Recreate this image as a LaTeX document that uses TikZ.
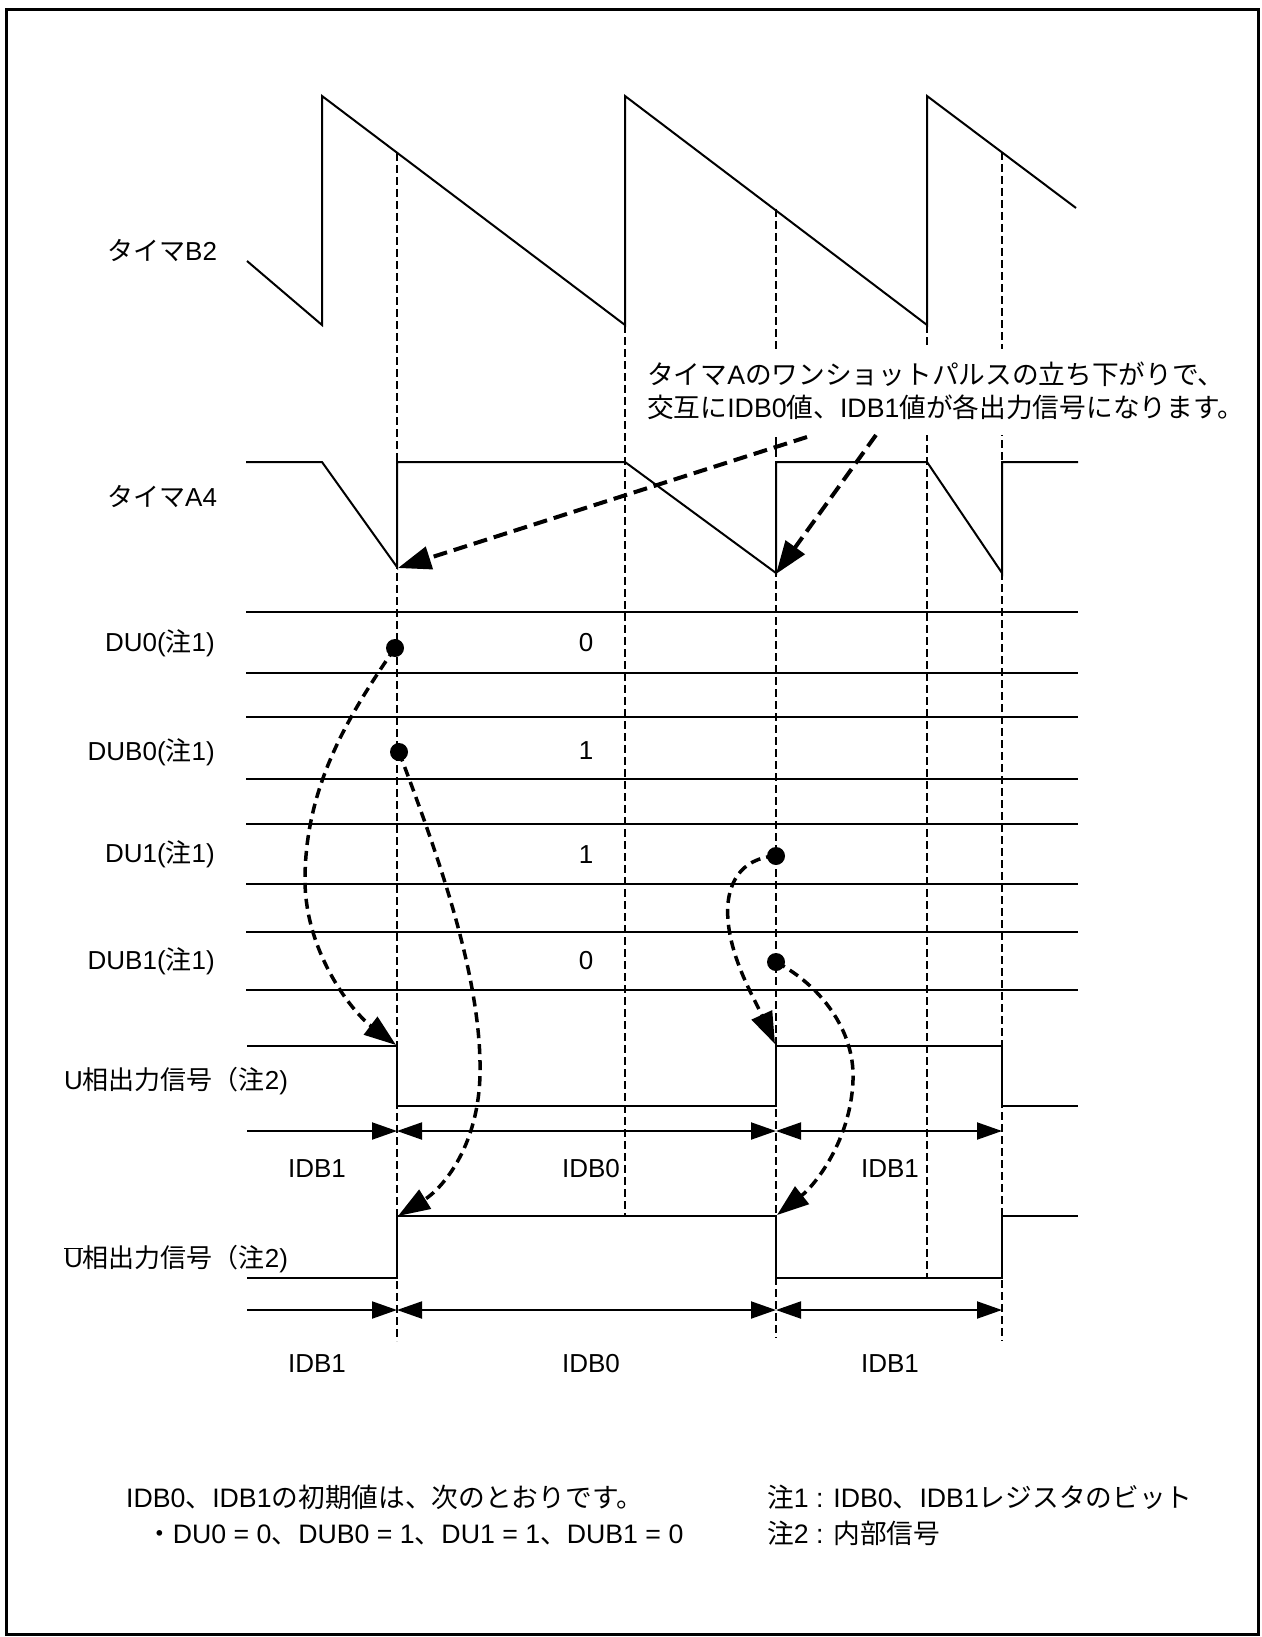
\documentclass[tikz,border=0pt]{standalone}
\usepackage{fontspec}
\setmainfont{Liberation Sans}
\newfontfamily\jp{Noto Sans CJK JP}
\usetikzlibrary{arrows.meta}
\tikzset{
  sig/.style={line width=2pt, line join=miter},
  guide/.style={line width=2pt, dash pattern=on 8pt off 4pt},
  callout/.style={line width=4pt, dash pattern=on 14pt off 7pt, -{Triangle[length=33pt,width=23pt]}},
  bendarrow/.style={line width=3.5pt, dash pattern=on 10pt off 6pt, -{Triangle[length=32pt,width=22pt]}},
  dimr/.style={line width=2pt, -{Triangle[length=25pt,width=17pt]}},
  dimb/.style={line width=2pt, {Triangle[length=25pt,width=17pt]}-{Triangle[length=25pt,width=17pt]}},
  lbl/.style={font=\fontsize{26}{30}\selectfont, inner sep=0pt},
  calltxt/.style={font=\fontsize{26.7}{30}\selectfont, inner sep=0pt},
  notetxt/.style={font=\fontsize{26.7}{30}\selectfont, inner sep=0pt},
  dotmark/.style={circle, fill=black, minimum size=18pt, inner sep=0pt},
}
\begin{document}
\begin{tikzpicture}[x=1pt,y=-1pt]
\useasboundingbox (0,0) rectangle (1261,1637);
\draw[line width=3pt] (6,10) rectangle (1258.5,1634.5);

% guide (dashed) lines
\draw[guide] (397,153) -- (397,1341);
\draw[guide] (625,325) -- (625,1216);
\draw[guide] (776,209) -- (776,1338);
\draw[guide] (927,325) -- (927,1278);
\draw[guide] (1002,152) -- (1002,1341);

% Timer B2 sawtooth
\draw[sig] (247,261) -- (322,325) -- (322,96) -- (625,325) -- (625,96) -- (927,325) -- (927,96) -- (1076,208);

% Timer A4
\draw[sig] (246,462) -- (322,462) -- (397,567) -- (397,462) -- (625,462) -- (776,573) -- (776,462) -- (927,462) -- (1002,573) -- (1002,462) -- (1078,462);

% register rows
\foreach \yy in {612,673,717,779,824,884,932,990}
  \draw[sig] (246,\yy) -- (1078,\yy);

% U phase
\draw[sig] (247,1046) -- (397,1046) -- (397,1106) -- (776,1106) -- (776,1046) -- (1002,1046) -- (1002,1106) -- (1078,1106);
% U-bar phase
\draw[sig] (247,1278) -- (397,1278) -- (397,1216) -- (776,1216) -- (776,1278) -- (1002,1278) -- (1002,1216) -- (1078,1216);

% dimension arrows
\coordinate (ua) at (247,1131); \coordinate (ub) at (397,1131);
\coordinate (uc) at (776,1131); \coordinate (ud) at (1002,1131);
\draw[dimr] (ua) -- (ub);
\draw[dimb] (ub) -- (uc);
\draw[dimb] (uc) -- (ud);
\coordinate (va) at (247,1310); \coordinate (vb) at (397,1310);
\coordinate (vc) at (776,1310); \coordinate (vd) at (1002,1310);
\draw[dimr] (va) -- (vb);
\draw[dimb] (vb) -- (vc);
\draw[dimb] (vc) -- (vd);

% left labels
\node[lbl, anchor=base west] (lb2) at (107,261) {{\jp タイマ}B2};
\node[lbl, anchor=base west] (la4) at (107,506) {{\jp タイマ}A4};
\node[lbl, anchor=base east] (ldu0) at (215,651) {DU0({\jp 注}1)};
\node[lbl, anchor=base east] (ldub0) at (215,760) {DUB0({\jp 注}1)};
\node[lbl, anchor=base east] (ldu1) at (215,862) {DU1({\jp 注}1)};
\node[lbl, anchor=base east] (ldub1) at (215,969) {DUB1({\jp 注}1)};
\node[lbl, anchor=base west] (lu) at (64,1089) {U{\jp 相出力信号（注}2)};
\node[lbl, anchor=base west] (lub) at (64,1267) {$\overline{\hbox{U}}${\jp 相出力信号（注}2)};

% row values
\node[lbl, anchor=base] (v0) at (586,651) {0};
\node[lbl, anchor=base] (v1) at (586,759) {1};
\node[lbl, anchor=base] (v2) at (586,863) {1};
\node[lbl, anchor=base] (v3) at (586,969) {0};

% interval labels
\node[lbl, anchor=base] (i1) at (317,1177) {IDB1};
\node[lbl, anchor=base] (i2) at (591,1177) {IDB0};
\node[lbl, anchor=base] (i3) at (890,1177) {IDB1};
\node[lbl, anchor=base] (j1) at (317,1372) {IDB1};
\node[lbl, anchor=base] (j2) at (591,1372) {IDB0};
\node[lbl, anchor=base] (j3) at (890,1372) {IDB1};

% callout text
\fill[white] (638,349) rectangle (1250,435);
\node[calltxt, anchor=base west] (t1) at (647,384) {{\jp タイマ}A{\jp のワンショットパルスの立ち下がりで、}};
\node[calltxt, anchor=base west] (t2) at (647,417) {{\jp 交互に}IDB0{\jp 値、}IDB1{\jp 値が各出力信号になります。}};

% callout arrows
\coordinate (s1) at (807,437); \coordinate (e1) at (398,568);
\coordinate (s2) at (876,435); \coordinate (e2) at (776,574);
\draw[callout] (s1) -- (e1);
\draw[callout] (s2) -- (e2);

% dots
\node[dotmark] (d0) at (395,648) {};
\node[dotmark] (d1) at (399,752) {};
\node[dotmark] (d2) at (776,856) {};
\node[dotmark] (d3) at (776,962) {};

% curved arrows
\coordinate (f0) at (396,1045);
\coordinate (f1) at (398,1216);
\coordinate (f2) at (775,1044);
\coordinate (f3) at (777,1215);
\draw[bendarrow] (d0.center) .. controls (345,720) and (305,790) .. (305,880) .. controls (305,950) and (350,1010) .. (f0);
\draw[bendarrow] (d1.center) .. controls (440,860) and (482,980) .. (480,1075) .. controls (478,1150) and (440,1190) .. (f1);
\draw[bendarrow] (d2.center) .. controls (740,858) and (725,885) .. (728,920) .. controls (731,960) and (755,1000) .. (f2);
\draw[bendarrow] (d3.center) .. controls (820,985) and (855,1030) .. (853,1080) .. controls (851,1140) and (815,1185) .. (f3);

% notes
\node[notetxt, anchor=base west] (n1) at (126,1507) {IDB0{\jp 、}IDB1{\jp の初期値は、次のとおりです。}};
\node[notetxt, anchor=base west] (n2) at (146,1543) {{\jp ・}DU0 = 0{\jp 、}DUB0 = 1{\jp 、}DU1 = 1{\jp 、}DUB1 = 0};
\node[notetxt, anchor=base west] (n3) at (767,1507) {{\jp 注}1 : IDB0{\jp 、}IDB1{\jp レジスタのビット}};
\node[notetxt, anchor=base west] (n4) at (767,1543) {{\jp 注}2 : {\jp 内部信号}};
\end{tikzpicture}
\end{document}
